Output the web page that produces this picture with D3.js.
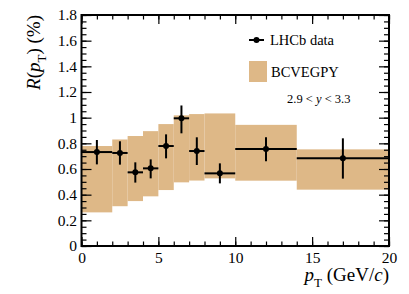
<!DOCTYPE html>
<html><head><meta charset="utf-8">
<script src="https://cdn.jsdelivr.net/npm/d3@7"></script>
<style>body{margin:0;background:#fff}svg{display:block}</style>
</head><body><svg id="c" width="409" height="294"></svg>
<script>
// BCVEGPY prediction band (bin edges, lower, upper)
const binLo = [0, 2, 3, 4, 5, 6, 7, 8, 10, 14];
const binHi = [2, 3, 4, 5, 6, 7, 8, 10, 14, 20];
const bandLow = [0.262, 0.31, 0.35, 0.387, 0.436, 0.496, 0.51, 0.527, 0.509, 0.439];
const bandHigh = [0.779, 0.83, 0.857, 0.895, 0.95, 1.018, 1.028, 1.033, 0.944, 0.753];
// LHCb data
const dataX = [1, 2.5, 3.5, 4.5, 5.5, 6.5, 7.5, 9, 12, 17];
const dataY = [0.732, 0.725, 0.574, 0.605, 0.779, 0.995, 0.74, 0.566, 0.756, 0.683];
const errUp = [0.094, 0.091, 0.078, 0.07, 0.091, 0.1, 0.107, 0.078, 0.091, 0.156];
const errDn = [0.096, 0.091, 0.08, 0.078, 0.096, 0.117, 0.109, 0.078, 0.096, 0.158];
const xTicks = [0, 5, 10, 15, 20];
const yTicks = [0, 0.2, 0.4, 0.6, 0.8, 1, 1.2, 1.4, 1.6, 1.8];

const FONT = '"Liberation Serif"';
const svg = d3.select("#c").style("font-family", FONT);
const L = 81.5, R = 389, T = 15, B = 246;
const x = d3.scaleLinear().domain([0, 20]).range([L, R]);
const y = d3.scaleLinear().domain([0, 1.8]).range([B, T]);
const band = "#deb887";

// band
svg.append("g").selectAll("rect").data(binLo).join("rect")
  .attr("x", (d, i) => x(d)).attr("width", (d, i) => x(binHi[i]) - x(d))
  .attr("y", (d, i) => y(bandHigh[i])).attr("height", (d, i) => y(bandLow[i]) - y(bandHigh[i]))
  .attr("fill", band);

// data points
const g = svg.append("g").attr("stroke", "#000").attr("stroke-width", 2);
dataX.forEach((v, i) => {
  g.append("line").attr("x1", x(binLo[i])).attr("x2", x(binHi[i])).attr("y1", y(dataY[i])).attr("y2", y(dataY[i]));
  g.append("line").attr("x1", x(v)).attr("x2", x(v)).attr("y1", y(dataY[i] + errUp[i])).attr("y2", y(dataY[i] - errDn[i]));
});
svg.append("g").selectAll("circle").data(dataX).join("circle")
  .attr("cx", d => x(d)).attr("cy", (d, i) => y(dataY[i])).attr("r", 3).attr("fill", "#000");

// axes
function styleAxis(sel) {
  sel.attr("font-family", null).attr("font-size", null);
  sel.selectAll(".domain").remove();
  sel.selectAll("line").attr("stroke", "#000").attr("stroke-width", 1.2);
  sel.selectAll("text").attr("fill", "#000").style("font-family", FONT).style("font-size", "15.5px");
}
const xMinor = d3.range(0, 21, 1), yMinor = d3.range(0, 1.8001, 0.05);
svg.append("g").attr("transform", `translate(0,${B})`)
  .call(d3.axisBottom(x).tickValues(xMinor).tickSize(-4.5).tickFormat("")).call(styleAxis);
svg.append("g").attr("transform", `translate(0,${B})`)
  .call(d3.axisBottom(x).tickValues(xTicks).tickSize(-9).tickPadding(6).tickFormat(d3.format("d"))).call(styleAxis);
svg.append("g").attr("transform", `translate(0,${T})`)
  .call(d3.axisTop(x).tickValues(xMinor).tickSize(-4.5).tickFormat("")).call(styleAxis);
svg.append("g").attr("transform", `translate(0,${T})`)
  .call(d3.axisTop(x).tickValues(xTicks).tickSize(-9).tickFormat("")).call(styleAxis);
svg.append("g").attr("transform", `translate(${L},0)`)
  .call(d3.axisLeft(y).tickValues(yMinor).tickSize(-5).tickFormat("")).call(styleAxis);
svg.append("g").attr("transform", `translate(${L},0)`)
  .call(d3.axisLeft(y).tickValues(yTicks).tickSize(-10).tickPadding(4.5).tickFormat(d => d3.format("~g")(d))).call(styleAxis);
svg.append("g").attr("transform", `translate(${R},0)`)
  .call(d3.axisRight(y).tickValues(yMinor).tickSize(-5).tickFormat("")).call(styleAxis);
svg.append("g").attr("transform", `translate(${R},0)`)
  .call(d3.axisRight(y).tickValues(yTicks).tickSize(-10).tickFormat("")).call(styleAxis);

// frame
svg.append("rect").attr("x", L).attr("y", T).attr("width", R - L).attr("height", B - T)
  .attr("fill", "none").attr("stroke", "#000").attr("stroke-width", 2);

function txt(xp, yp, size) {
  return svg.append("text").attr("x", xp).attr("y", yp).style("font-family", FONT).style("font-size", size + "px").attr("fill", "#000");
}
// x title
const xt = txt(R, 281, 19).attr("text-anchor", "end");
xt.append("tspan").attr("font-style", "italic").text("p");
xt.append("tspan").attr("dy", 6).style("font-size", "13px").text("T");
xt.append("tspan").attr("dy", -6).text(" (GeV/");
xt.append("tspan").attr("font-style", "italic").text("c");
xt.append("tspan").text(")");

// y title
const yt = txt(0, 0, 19).attr("transform", `translate(40,${T}) rotate(-90)`).attr("text-anchor", "end");
yt.append("tspan").attr("font-style", "italic").text("R");
yt.append("tspan").text("(");
yt.append("tspan").attr("font-style", "italic").text("p");
yt.append("tspan").attr("dy", 6).style("font-size", "13px").text("T");
yt.append("tspan").attr("dy", -6).text(") (%)");

// legend
svg.append("line").attr("x1", 249).attr("x2", 264).attr("y1", 40).attr("y2", 40).attr("stroke", "#000").attr("stroke-width", 2);
svg.append("circle").attr("cx", 256.5).attr("cy", 40).attr("r", 3).attr("fill", "#000");
txt(270, 45, 14.5).text("LHCb data");
svg.append("rect").attr("x", 249).attr("y", 61).attr("width", 18).attr("height", 21).attr("fill", band);
txt(271, 77, 14.5).text("BCVEGPY");
const rt = txt(287, 103, 12.5);
rt.append("tspan").text("2.9 < ");
rt.append("tspan").attr("font-style", "italic").text("y");
rt.append("tspan").text("  < 3.3");
</script></body></html>
